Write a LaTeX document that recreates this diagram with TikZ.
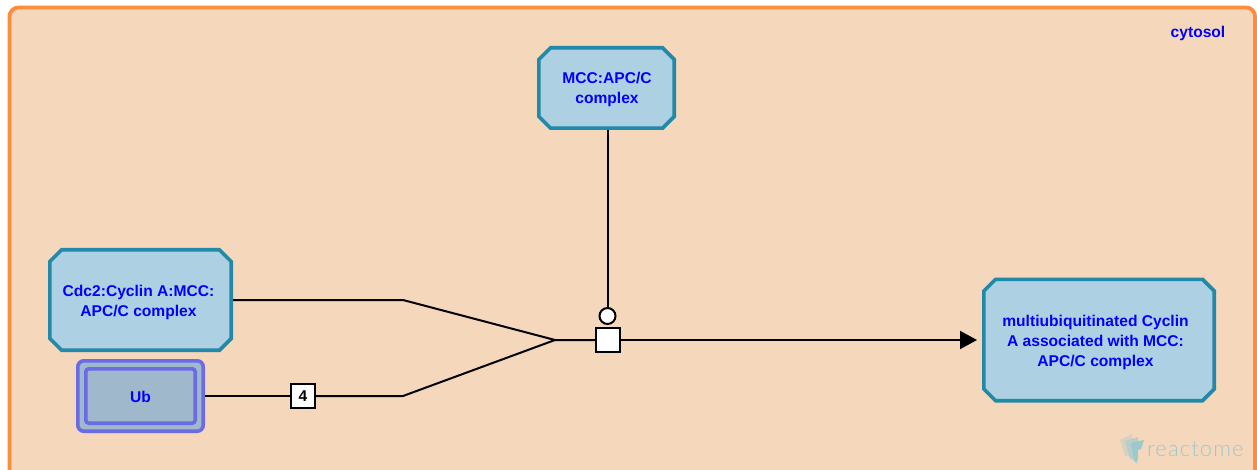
\documentclass[tikz,border=0pt]{standalone}
\usepackage{fontspec}
\setmainfont{Liberation Sans}
\newfontfamily\logofont[LetterSpace=5]{Lato Light}
\usetikzlibrary{arrows.meta,calc}
\definecolor{compfill}{HTML}{F5D7BB}
\definecolor{compline}{HTML}{FF8C3C}
\definecolor{cplxfill}{HTML}{ADD0E3}
\definecolor{cplxline}{HTML}{2289A8}
\definecolor{setfill}{HTML}{A0B8CC}
\definecolor{setline}{HTML}{6B6BE3}
\definecolor{logotxt}{HTML}{9CC8CF}
\tikzset{
  lbl/.style={text=blue,font=\fontsize{15.6}{20}\selectfont\bfseries,align=center,inner sep=0pt},
  cplxanchor/.style={inner sep=0pt,outer sep=0pt},
  cplxstroke/.style={draw=cplxline,fill=cplxfill,line width=3.6pt},
  conn/.style={black,line width=2pt},
  glyph/.style={draw=black,fill=white,line width=2pt,inner sep=0pt,outer sep=0pt}
}
% name, centre x, centre y, outer width, outer height: octagon with cut corners
\newcommand{\cplxbox}[5]{%
  \node[cplxanchor,minimum width=#4pt,minimum height=#5pt] (#1) at (#2,#3) {};
  \draw[cplxstroke]
    ($(#1.north west)+(13.5,1.8)$) -- ($(#1.north east)+(-13.5,1.8)$) --
    ($(#1.north east)+(-1.8,13.5)$) -- ($(#1.south east)+(-1.8,-13.5)$) --
    ($(#1.south east)+(-13.5,-1.8)$) -- ($(#1.south west)+(13.5,-1.8)$) --
    ($(#1.south west)+(1.8,-13.5)$) -- ($(#1.north west)+(1.8,13.5)$) -- cycle;
}
\begin{document}
\begin{tikzpicture}[x=1pt,y=-1pt]
\useasboundingbox (0,0) rectangle (1257,470);
\fill[white] (0,0) rectangle (1257,470);
\begin{scope}
  \clip (0,0) rectangle (1257,470);
  \draw[compline,fill=compfill,line width=3.8pt,rounded corners=9pt] (9.5,7.5) rectangle (1255,480);
\end{scope}
\node[lbl] (cyto) at (1198,33.5) {cytosol};
\cplxbox{mcc}{606.5}{88}{139}{84}
\node[lbl] (mcct) at (607,89) {MCC:APC/C\\complex};
\cplxbox{cdc}{140.5}{300}{185}{104}
\node[lbl] (cdct) at (138.5,302.5) {Cdc2:Cyclin A:MCC:\\APC/C complex};
\cplxbox{prod}{1099}{340}{234}{125}
\node[lbl] (prodt) at (1095.5,342.5) {multiubiquitinated Cyclin\\A associated with MCC:\\APC/C complex};
% Ub set: double outline
\node[draw=setline,fill=setfill,line width=3.6pt,rounded corners=6pt,minimum width=125.4pt,minimum height=70.4pt,inner sep=0pt] (ubo) at (140.5,396) {};
\node[draw=setline,fill=setfill,line width=3.6pt,rounded corners=3pt,minimum width=109.4pt,minimum height=54.4pt,inner sep=0pt] (ub) at (140.5,396) {};
\node[lbl] (ubt) at (140.5,397) {Ub};
% glyphs
\node[glyph,minimum size=24pt] (rxn) at (607.5,340) {};
\node[glyph,circle,minimum size=16pt] (cat) at (607.5,316) {};
\node[glyph,minimum size=24pt,font=\fontsize{15.6}{18}\selectfont\bfseries] (four) at (303,396) {4};
\coordinate (j1) at (403,300);
\coordinate (j2) at (403,396);
\coordinate (m) at (555,340);
\draw[conn] (cdc.east) -- (j1) -- (m) -- (rxn.west);
\draw[conn] (ubo.east) -- (four.west);
\draw[conn] (four.east) -- (j2) -- (m);
\draw[conn] (cat.north) -- (mcc.south -| cat.north);
\draw[conn,-{Triangle[length=17pt,width=18pt]},shorten >=5pt] (rxn.east) -- (prod.west);
% reactome logo
\fill[logotxt!35!compfill] (1120,440) -- (1132,434) -- (1132,456) -- (1125,456) -- cycle;
\fill[logotxt!65!compfill] (1125,441) -- (1138,437) -- (1138,460) -- (1130,459) -- cycle;
\fill[logotxt] (1131,443) -- (1144,440) -- (1141,449) -- (1138,450) -- (1137,463) -- (1134,461) -- cycle;
\node[text=logotxt,font=\logofont\fontsize{22}{22}\selectfont,anchor=base west,inner sep=0pt] (logo) at (1147,456) {reactome};
\end{tikzpicture}
\end{document}
